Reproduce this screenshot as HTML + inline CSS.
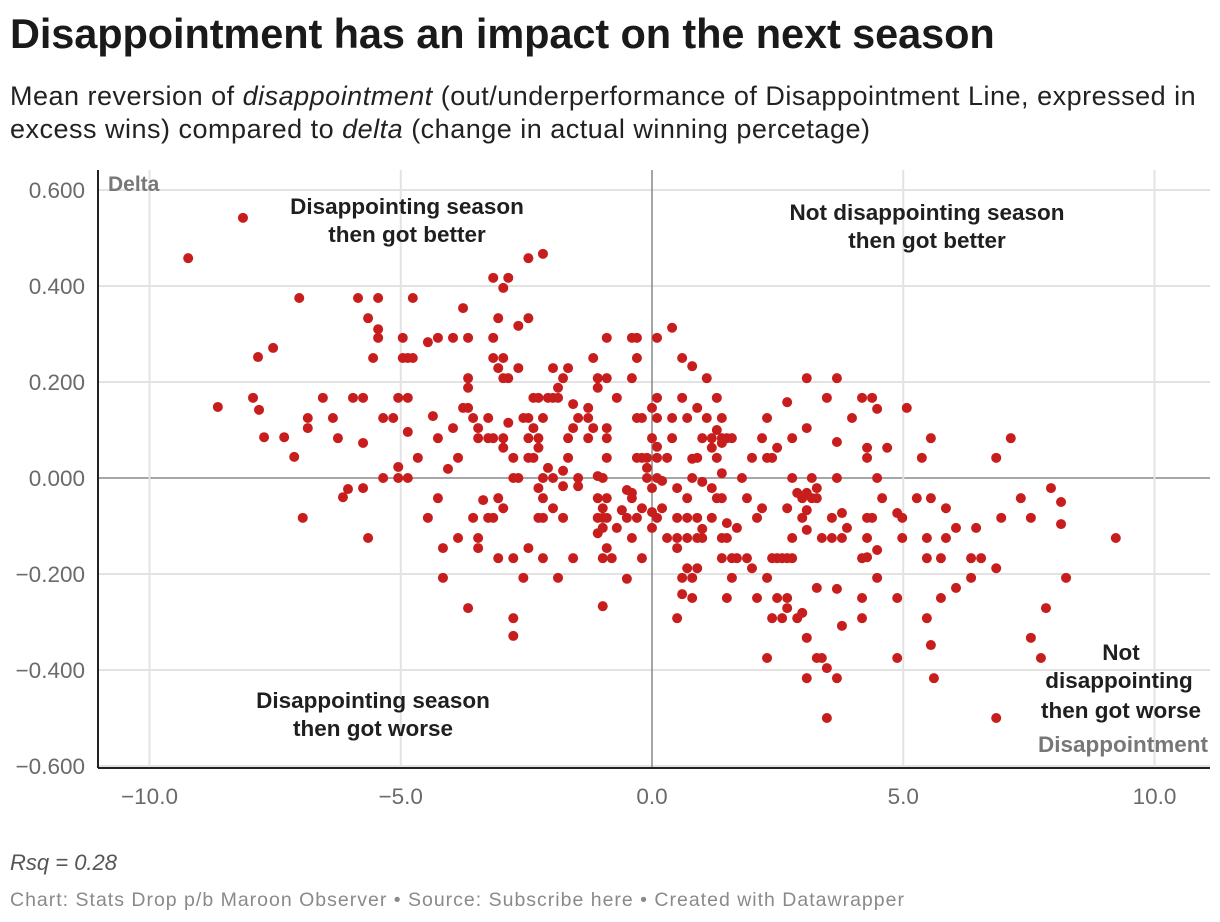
<!DOCTYPE html>
<html><head><meta charset="utf-8"><style>
body{margin:0;background:#fff;width:1220px;height:922px;overflow:hidden;font-family:"Liberation Sans",sans-serif;}
#title{position:absolute;left:10px;top:10px;font-size:41.5px;font-weight:bold;color:#1a1a1a;white-space:nowrap;letter-spacing:-0.1px}
#sub{position:absolute;left:10px;top:80px;font-size:27px;letter-spacing:0.5px;color:#222;line-height:33px;width:1215px;white-space:nowrap}
svg{position:absolute;left:0;top:0}
</style></head><body>
<div id="title">Disappointment has an impact on the next season</div>
<div id="sub">Mean reversion of <i>disappointment</i> (out/underperformance of Disappointment Line, expressed in<br>excess wins) compared to <i>delta</i> (change in actual winning percetage)</div>
<svg id="chart" width="1220" height="922"></svg>
<script>
const xTicks=[-10,-5,0,5,10];
const xTickLabels=["−10.0","−5.0","0.0","5.0","10.0"];
const yTicks=[0.6,0.4,0.2,0,-0.2,-0.4,-0.6];
const yTickLabels=["0.600","0.400","0.200","0.000","−0.200","−0.400","−0.600"];
const xs=[-9.23,-8.14,-8.64,-7.94,-7.84,-7.82,-7.72,-7.54,-7.32,-7.12,-7.02,-6.95,-6.85,-6.85,-6.55,-6.35,-6.25,-6.15,-6.05,-5.95,-5.85,-5.75,-5.75,-5.75,-5.65,-5.65,-5.55,-5.45,-5.45,-5.45,-5.35,-5.35,-5.15,-5.05,-5.05,-5.05,-4.96,-4.96,-4.86,-4.76,-4.76,-4.86,-4.86,-4.86,-4.66,-4.46,-4.46,-4.36,-4.26,-4.26,-4.26,-4.16,-4.16,-4.06,-3.96,-3.96,-3.86,-3.86,-3.76,-3.76,-3.66,-3.66,-3.66,-3.66,-3.66,-3.56,-3.56,-3.46,-3.46,-3.46,-3.46,-3.36,-3.26,-3.26,-3.26,-3.16,-3.16,-3.16,-3.16,-3.16,-3.06,-3.06,-3.06,-3.06,-2.96,-2.96,-2.96,-2.86,-2.96,-2.96,-2.96,-2.86,-2.86,-2.76,-2.76,-2.66,-2.76,-2.76,-2.76,-2.66,-2.66,-2.56,-2.56,-2.46,-2.46,-2.46,-2.46,-2.46,-2.46,-2.36,-2.36,-2.36,-2.26,-2.26,-2.26,-2.26,-2.26,-2.17,-2.17,-2.17,-2.17,-2.17,-2.17,-2.07,-2.07,-1.97,-1.97,-1.97,-1.97,-1.87,-1.87,-1.87,-1.77,-1.77,-1.77,-1.77,-1.67,-1.67,-1.67,-1.57,-1.57,-1.57,-1.47,-1.47,-1.47,-1.27,-1.27,-1.27,-1.17,-1.17,-1.08,-1.08,-1.08,-1.08,-1.08,-1.08,-0.98,-0.98,-0.98,-0.98,-0.98,-0.98,-0.90,-0.90,-0.90,-0.90,-0.90,-0.90,-0.90,-0.90,-0.80,-0.70,-0.70,-0.60,-0.50,-0.50,-0.50,-0.40,-0.30,-0.40,-0.30,-0.40,-0.40,-0.40,-0.30,-0.20,-0.30,-0.20,-0.30,-0.20,-0.20,-0.10,-0.10,-0.10,0,0,0,0,0,0.10,0.10,0.10,0.10,0.10,0.10,0.10,0.20,0.20,0.30,0.30,0.40,0.40,0.40,0.50,0.50,0.50,0.50,0.50,0.60,0.60,0.60,0.60,0.70,0.70,0.70,0.70,0.70,0.80,0.80,0.80,0.80,0.80,0.90,0.90,0.90,0.90,0.90,1.00,1.00,1.00,1.00,1.09,1.09,1.19,1.19,1.19,1.19,1.29,1.29,1.29,1.29,1.39,1.39,1.49,1.39,1.39,1.39,1.39,1.49,1.39,1.49,1.49,1.59,1.59,1.59,1.69,1.69,1.79,1.89,1.89,1.99,1.99,2.09,2.09,2.19,2.19,2.29,2.29,2.39,2.29,2.29,2.39,2.49,2.59,2.69,2.79,2.39,2.59,2.49,2.49,2.69,2.69,2.69,2.69,2.79,2.79,2.79,2.89,2.89,2.99,2.99,2.99,3.08,3.08,3.08,3.08,3.08,3.08,3.08,3.18,3.18,3.28,3.28,3.28,3.28,3.38,3.38,3.48,3.48,3.48,3.58,3.58,3.68,3.68,3.68,3.68,3.68,3.78,3.78,3.78,3.88,3.98,4.18,4.18,4.28,4.18,4.18,4.28,4.28,4.28,4.38,4.28,4.38,4.48,4.48,4.48,4.48,4.58,4.68,4.88,4.98,4.88,4.88,4.98,5.07,5.27,5.37,5.47,5.47,5.47,5.55,5.55,5.55,5.61,5.75,5.75,5.85,5.85,6.05,6.05,6.35,6.35,6.45,6.55,6.85,6.85,6.85,6.95,7.14,7.34,7.54,7.54,7.74,7.84,7.94,8.14,8.14,8.24,9.23];
const ys=[0.458,0.542,0.148,0.167,0.252,0.142,0.085,0.271,0.085,0.044,0.375,-0.083,0.125,0.104,0.167,0.125,0.083,-0.040,-0.023,0.167,0.375,0.167,0.073,-0.021,-0.125,0.333,0.25,0.375,0.310,0.292,0,0.125,0.125,0.167,0.023,0,0.292,0.25,0.25,0.25,0.375,0.167,0.096,0,0.042,0.283,-0.083,0.129,0.292,0.083,-0.042,-0.146,-0.208,0.019,0.292,0.104,0.042,-0.125,0.354,0.146,0.146,0.292,0.208,0.188,-0.271,0.125,-0.083,0.104,0.083,-0.125,-0.146,-0.046,0.125,0.083,-0.083,0.083,0.292,0.25,-0.083,0.417,0.333,0.229,-0.042,-0.167,0.396,0.25,0.208,0.208,0.083,0.063,-0.063,0.417,0.115,0.042,0,0,-0.167,-0.292,-0.329,0.317,0.229,0.125,-0.208,0.458,0.333,0.125,0.083,0.042,-0.146,0.167,0.104,0.042,0.167,0.083,0.063,-0.021,-0.083,0.467,0.125,0,-0.042,-0.083,-0.167,0.167,0.021,0.167,0.229,0,-0.063,0.167,0.188,-0.208,0.208,0.015,-0.017,-0.083,0.229,0.083,0.042,0.104,-0.167,0.154,0.125,0,-0.017,0.146,0.125,0.083,0.25,0.104,0.208,0.188,0.004,-0.042,-0.083,-0.115,0,-0.063,-0.083,-0.104,-0.167,-0.267,0.292,0.208,0.104,0.083,0.042,-0.042,-0.083,-0.146,-0.167,0.167,-0.104,-0.067,-0.025,-0.083,-0.210,0.292,0.292,0.208,0.25,-0.031,-0.042,-0.125,0.125,0.125,0.042,0.042,-0.083,-0.063,-0.167,0.042,0.021,0,0.146,0.083,-0.021,-0.071,-0.104,0.292,0.167,0.125,0.065,0.042,0,-0.083,-0.006,-0.063,0.042,-0.125,0.313,0.125,0.083,-0.021,-0.083,-0.125,-0.146,-0.292,0.25,0.167,-0.208,-0.242,0.125,-0.042,-0.083,-0.125,-0.188,0.233,0.040,0,-0.208,-0.25,0.146,0.042,-0.083,-0.125,-0.188,0.083,-0.008,-0.106,-0.125,0.208,0.125,0.083,0.063,-0.021,-0.083,0.167,0.100,0.042,-0.042,0.125,0.083,0.083,0.073,0.010,-0.042,-0.125,-0.125,-0.167,-0.094,-0.25,0.083,-0.167,-0.208,-0.104,-0.167,0,-0.042,-0.167,0.042,-0.188,-0.083,-0.25,0.083,-0.063,0.125,0.042,0.042,-0.208,-0.375,-0.167,-0.167,-0.167,-0.167,-0.167,-0.292,-0.292,0.063,-0.25,0.158,-0.063,-0.25,-0.271,0.083,0,-0.125,-0.031,-0.292,-0.042,-0.083,-0.281,0.208,0.104,-0.031,-0.067,-0.108,-0.333,-0.417,0,-0.042,-0.021,-0.042,-0.229,-0.375,-0.375,-0.125,0.167,-0.396,-0.5,-0.083,-0.125,0.208,0.075,0,-0.231,-0.417,-0.073,-0.125,-0.308,-0.104,0.125,0.167,-0.167,-0.165,-0.25,-0.292,0.063,0.042,-0.083,-0.083,-0.125,0.167,0.144,0,-0.150,-0.208,-0.042,0.063,-0.073,-0.083,-0.25,-0.375,-0.125,0.146,-0.042,0.042,-0.125,-0.167,-0.292,0.083,-0.042,-0.348,-0.417,-0.167,-0.25,-0.063,-0.125,-0.104,-0.229,-0.167,-0.208,-0.104,-0.167,0.042,-0.188,-0.5,-0.083,0.083,-0.042,-0.083,-0.333,-0.375,-0.271,-0.021,-0.050,-0.096,-0.208,-0.125];
const svg=document.getElementById('chart');
const NS='http://www.w3.org/2000/svg';
const L=98,R=1210,T=170,B=768;
const xScale=v=>652+v*50.25;
const yScale=v=>478-v*480;
function mk(tag,attrs,parent){const e=document.createElementNS(NS,tag);for(const k in attrs)e.setAttribute(k,attrs[k]);(parent||svg).appendChild(e);return e;}
yTicks.forEach((t,i)=>{
  const y=yScale(t);
  const g=mk('line',{x1:L,x2:R,y1:y,y2:y,stroke:t===0?'#888':'#e3e3e3','stroke-width':t===0?1.5:2});
  
  
  const tx=mk('text',{x:85,y:y+8,'text-anchor':'end','font-size':22.5,fill:'#6a6a6a','font-family':'Liberation Sans, sans-serif'});
  tx.textContent=yTickLabels[i];
  
  
});
xTicks.forEach((t,i)=>{
  const x=xScale(t);
  const g=mk('line',{x1:x,x2:x,y1:T,y2:B,stroke:t===0?'#888':'#e3e3e3','stroke-width':t===0?1.5:2});
  
  
  const tx=mk('text',{x:x,y:804,'text-anchor':'middle','font-size':22.5,fill:'#6a6a6a','font-family':'Liberation Sans, sans-serif'});
  tx.textContent=xTickLabels[i];
  
  
});
const ax1=mk('line',{x1:L,x2:R,y1:B,y2:B,stroke:'#222','stroke-width':2});


const ax2=mk('line',{x1:L,x2:L,y1:T,y2:B,stroke:'#222','stroke-width':2});


for(let i=0;i<xs.length;i++){
  const c=mk('circle',{cx:xScale(xs[i]),cy:yScale(ys[i]),r:5,fill:'#c71e1d'});
  
  
}
function label(txt,x,y,anchor,size,color){
  const t=mk('text',{x:x,y:y,'text-anchor':anchor,'font-size':size,'font-weight':'bold',fill:color,'font-family':'Liberation Sans, sans-serif'});
  t.textContent=txt;
  return t;
}
let a;
a=label('Delta',108,191,'start',21,'#777');


a=label('Disappointment',1208,752,'end',22.5,'#777');


const anns=[['Disappointing season',407,214],['then got better',407,242],['Not disappointing season',927,220],['then got better',927,248],['Disappointing season',373,708],['then got worse',373,736],['Not',1121,660],['disappointing',1119,688],['then got worse',1121,718]];
anns.forEach(d=>{
  a=label(d[0],d[1],d[2],'middle',22.5,'#1f1f1f');
  
  
});
a=mk('text',{x:10,y:870,'font-size':22,'font-style':'italic',fill:'#555','font-family':'Liberation Sans, sans-serif'});
a.textContent='Rsq = 0.28';


a=mk('text',{x:10,y:906,'font-size':19.5,'letter-spacing':1.0,fill:'#8a8a8a','font-family':'Liberation Sans, sans-serif'});
a.textContent='Chart: Stats Drop p/b Maroon Observer • Source: Subscribe here • Created with Datawrapper';


</script>
</body></html>
